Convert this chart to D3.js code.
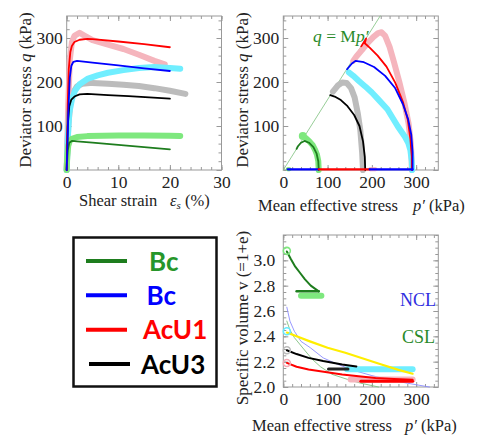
<!DOCTYPE html>
<html>
<head>
<meta charset="utf-8">
<script src="https://cdn.jsdelivr.net/npm/d3@7"></script>
<style>
  html, body { margin: 0; padding: 0; background: #fff; }
  svg { display: block; }
</style>
</head>
<body>
<svg id="chart" width="477" height="437"></svg>
<script>
// ---- tick values ----
const strainTicks = [0, 10, 20, 30];
const stressTicks = [0, 100, 200, 300];
const qTicks = [100, 200, 300];
const volumeTicks = [2.0, 2.2, 2.4, 2.6, 2.8, 3.0];

// ---- deviator stress q (kPa) vs shear strain εs (%) ----
const bcGreenExpStrain = [[0,0],[0.1,30],[0.3,55],[0.6,66],[1,71],[2,75],[4,77],[7,78],[10,78.5],[15,78.5],[20,78],[22,77.5]];
const bcGreenModelStrain = [[0,0],[0.2,45],[0.5,62],[1,66],[2,65],[5,62],[10,57],[15,52],[20,47]];
const bcBlueExpStrain = [[0,0],[0.2,70],[0.5,130],[1,160],[1.6,180],[2.5,195],[4,207],[6,215],[8,221],[11,227],[14,232],[17,234],[20,232],[22,230]];
const bcBlueModelStrain = [[0,0],[0.3,130],[0.6,210],[0.9,237],[1.3,246],[2,248],[5,244],[10,238],[15,231],[20,225]];
const acu1ExpStrain = [[0,0],[0.3,150],[0.6,250],[1,290],[1.5,305],[2.5,312],[3.5,305],[5,295],[8,285],[11,275],[14,262],[17,248],[19,240]];
const acu1ModelStrain = [[0,0],[0.2,150],[0.4,230],[0.7,268],[1,282],[1.5,291],[2.5,296],[4,298],[5,297.5],[10,292],[15,286],[20,279]];
const acu3ExpStrain = [[0,0],[0.3,100],[0.7,150],[1.2,175],[2,190],[3,196],[5,198],[8,196],[11,194],[14,191],[17,186],[20,180],[23,173]];
const acu3ModelStrain = [[0,0],[0.2,100],[0.5,145],[0.9,160],[1.5,167],[2.5,172],[4,173],[8,170],[12,168],[16,165],[20,162]];

// ---- stress paths: q (kPa) vs p' (kPa) ----
const cslM = 1.6;
const cslPath = [[0,0],[350 / cslM,350]];
const bcGreenExpPath = [[80,0],[79,20],[76,35],[72,45],[66,57],[58,66],[50,73],[44,77]];
const bcGreenModelPath = [[80,0],[79,20],[75,38],[68,52],[58,62],[48,66],[40,62],[33,54],[30,48]];
const bcBlueExpPath = [[291,0],[290,20],[287,45],[282,62],[275,75],[258,100],[235,138],[215,160],[200,176],[185,190],[170,203],[158,214],[148,222]];
const bcBlueModelPath = [[292,0],[292,40],[289,80],[282,115],[270,150],[252,187],[230,214],[205,234],[182,245],[163,248],[155,242],[144,229]];
const acu1ExpPath = [[290,0],[290,20],[288,60],[283,105],[274,150],[262,200],[250,245],[240,280],[230,305],[222,313],[214,311],[203,302],[190,288],[177,272],[165,258],[158,248]];
const acu1ModelPath = [[290,0],[290,30],[287,70],[281,115],[270,155],[253,198],[233,235],[213,260],[195,278],[184,288],[187,299],[176,281]];
const acu3ExpPath = [[180,0],[178,40],[174,90],[168,130],[161,165],[153,186],[143,198],[133,199],[123,192],[112,178]];
const acu3ModelPath = [[185,0],[184,30],[180,65],[172,100],[160,125],[145,145],[130,159],[116,167],[106,170]];
const isoSegments = [
  { p: [10, 80], color: "#0000ff" },
  { p: [80, 195], color: "#ff0000" },
  { p: [195, 292], color: "#0000ff" }
];
const isoExpSegments = [
  { p: [196, 208], color: "#f4a8b4" },
  { p: [10, 14], color: "#6fdc6f" }
];

// ---- specific volume v vs p' (kPa) ----
const nclLine = [[8,2.63],[15,2.52],[25,2.44],[40,2.36],[61,2.31],[90,2.23],[122,2.18],[160,2.13],[200,2.09],[236,2.06],[280,2.03],[330,2.0]];
const cslLine = [[8,2.52],[15,2.45],[25,2.39],[46,2.30],[65,2.22],[84,2.16],[110,2.10],[145,2.06],[175,2.03],[215,2.0]];
const bcGreenModelVol = [[8,3.07],[17,3.01],[27,2.95],[38,2.90],[49,2.85],[62,2.80],[80,2.755]];
const bcGreenModelVolShear = [[30,2.755],[80,2.755]];
const bcGreenExpVol = [[40,2.72],[86,2.72]];
const yellowVol = [[8,2.43],[30,2.40],[60,2.36],[100,2.31],[140,2.27],[180,2.225],[220,2.18],[260,2.135],[292,2.105]];
const bcBlueExpVol = [[144,2.14],[292,2.14]];
const acu3ModelVol = [[8,2.29],[30,2.26],[57,2.23],[90,2.205],[133,2.177],[165,2.162]];
const acu3ExpVol = [[102,2.142],[146,2.142]];
const acu1ModelVol = [[8,2.19],[30,2.16],[57,2.138],[95,2.118],[133,2.098],[170,2.085],[208,2.072],[250,2.064],[292,2.058]];
const acu1ExpVol = [[152,2.06],[292,2.06]];
const acu1ModelVolShear = [[175,2.045],[292,2.045]];
const startPoints = [
  { p: 8, v: 3.075, color: "#7ee87e" },
  { p: 8, v: 2.44, color: "#66eaff" },
  { p: 8, v: 2.29, color: "#bbbbbb" },
  { p: 8, v: 2.19, color: "#f4a8b4" }
];

// ---- legend ----
const legendLabels = ["Bc", "Bc", "AcU1", "AcU3"];
const legendColors = ["#1e7d1e", "#0000ff", "#ff0000", "#000000"];
const legendTextColors = ["#26962a", "#0000ff", "#ff0000", "#000000"];

const SERIF = "'Liberation Serif', 'Tinos', 'DejaVu Serif', 'Noto Serif', 'Times New Roman', Times, serif";

const svg = d3.select("#chart");

// scales
const xStrain = d3.scaleLinear().domain([0, 30]).range([66.7, 221.5]);
const yQ = d3.scaleLinear().domain([0, 350]).range([170, 16]);
const xP = d3.scaleLinear().domain([0, 350]).range([283.3, 438.3]);
const yV = d3.scaleLinear().domain([2.0, 3.2]).range([387, 235]);

function styleAxis(s) {
  s.select(".domain").remove();
  s.attr("font-family", null).attr("font-size", null);
  s.selectAll(".tick line").attr("stroke", "#999");
  s.selectAll(".tick text").style("font-family", SERIF).style("font-size", "17.5px").style("fill", "#222");
}

// framed plot with inward ticks on all four sides
function frame(x, y, xMajor, xMinorStep, yMajor, yMinorStep, yLabels, yFmt, yPad) {
  const [x0, x1] = x.range();
  const [y0, y1] = y.range();
  const g = svg.append("g");
  const xd = x.domain(), yd = y.domain();
  const xMinor = d3.range(xd[0], xd[1] + 1e-9, xMinorStep);
  const yMinor = d3.range(yd[0], yd[1] + 1e-9, yMinorStep);

  [[d3.axisBottom(x), y0, true], [d3.axisTop(x), y1, false]].forEach(([ax, pos, lab]) => {
    g.append("g").attr("transform", `translate(0,${pos})`)
      .call(ax.tickValues(xMinor).tickSize(-3).tickFormat("")).call(styleAxis);
    g.append("g").attr("transform", `translate(0,${pos})`)
      .call(ax.tickValues(xMajor).tickSize(-5).tickPadding(6).tickFormat(lab ? d3.format("d") : ""))
      .call(styleAxis);
  });
  [[d3.axisLeft(y), x0, true], [d3.axisRight(y), x1, false]].forEach(([ax, pos, lab]) => {
    g.append("g").attr("transform", `translate(${pos},0)`)
      .call(ax.tickValues(yMinor).tickSize(-3).tickFormat("")).call(styleAxis);
    g.append("g").attr("transform", `translate(${pos},0)`)
      .call(ax.tickValues(lab ? yLabels : yMajor).tickSize(-5).tickPadding(yPad).tickFormat(lab ? yFmt : ""))
      .call(styleAxis);
  });
  g.append("rect").attr("x", x0).attr("y", y1).attr("width", x1 - x0).attr("height", y0 - y1)
    .attr("fill", "none").attr("stroke", "#999").attr("stroke-width", 1);
  return g;
}

function draw(g, x, y, data, color, width) {
  const line = d3.line().x(d => x(d[0])).y(d => y(d[1]));
  return g.append("path").attr("d", line(data)).attr("fill", "none")
    .attr("stroke", color).attr("stroke-width", width)
    .attr("stroke-linecap", "round").attr("stroke-linejoin", "round");
}

function serifText(g, x, y, size, color) {
  return g.append("text").attr("x", x).attr("y", y)
    .style("font-family", SERIF).style("font-size", size + "px").style("fill", color);
}

// ===== panel 1: q vs εs =====
frame(xStrain, yQ, strainTicks, 2, [0, 100, 200, 300], 20, qTicks, d3.format("d"), 4);
const p1 = svg.append("g");
const thick = 6;
draw(p1, xStrain, yQ, acu3ExpStrain, "#bcbcbc", thick);
draw(p1, xStrain, yQ, acu1ExpStrain, "#f5b5bd", thick);
draw(p1, xStrain, yQ, bcBlueExpStrain, "#70eeff", thick);
draw(p1, xStrain, yQ, bcGreenExpStrain, "#7ee87e", thick);
draw(p1, xStrain, yQ, acu3ModelStrain, "#000000", 1.8);
draw(p1, xStrain, yQ, bcGreenModelStrain, "#1e7d1e", 1.8);
draw(p1, xStrain, yQ, acu1ModelStrain, "#ff0000", 1.8);
draw(p1, xStrain, yQ, bcBlueModelStrain, "#0000ff", 1.8);

// ===== panel 2: q vs p' =====
frame(xP, yQ, stressTicks, 20, [0, 100, 200, 300], 20, qTicks, d3.format("d"), 4);
const p2 = svg.append("g");
draw(p2, xP, yQ, cslPath, "#7cc07c", 0.8);
draw(p2, xP, yQ, acu1ExpPath, "#f5b5bd", thick);
draw(p2, xP, yQ, bcBlueExpPath, "#70eeff", thick);
draw(p2, xP, yQ, acu3ExpPath, "#bcbcbc", thick);
draw(p2, xP, yQ, bcGreenExpPath, "#7ee87e", thick);
p2.append("circle").attr("cx", xP(44)).attr("cy", yQ(77)).attr("r", 4).attr("fill", "#7ee87e");
draw(p2, xP, yQ, acu1ModelPath, "#ff0000", 1.8);
draw(p2, xP, yQ, bcBlueModelPath, "#0000ff", 1.8);
draw(p2, xP, yQ, acu3ModelPath, "#000000", 1.8);
draw(p2, xP, yQ, bcGreenModelPath, "#1e7d1e", 1.8);
isoExpSegments.forEach(s => draw(p2, xP, yQ, [[s.p[0], 1.5], [s.p[1], 1.5]], s.color, 4));
isoSegments.forEach(s => draw(p2, xP, yQ, [[s.p[0], 1.5], [s.p[1], 1.5]], s.color, 2.2));
const eq = serifText(p2, 313, 42, 17.5, "#2a8a2a");
eq.append("tspan").style("font-style", "italic").text("q");
eq.append("tspan").text(" = M");
eq.append("tspan").style("font-style", "italic").text("p′");

// ===== panel 3: v vs p' =====
frame(xP, yV, stressTicks, 20, volumeTicks, 0.05, volumeTicks, d3.format(".1f"), 8);
const p3 = svg.append("g");
draw(p3, xP, yV, nclLine, "#8c8cff", 0.9);
draw(p3, xP, yV, cslLine, "#80c080", 0.9);
draw(p3, xP, yV, bcGreenExpVol, "#7ee87e", thick);
draw(p3, xP, yV, bcBlueExpVol, "#70eeff", thick);
draw(p3, xP, yV, acu1ExpVol, "#f5b5bd", thick);
draw(p3, xP, yV, acu3ExpVol, "#222222", 3);
draw(p3, xP, yV, yellowVol, "#ffee00", 2.2);
draw(p3, xP, yV, acu3ModelVol, "#000000", 2);
draw(p3, xP, yV, acu1ModelVol, "#ff0000", 2);
draw(p3, xP, yV, acu1ModelVolShear, "#ff0000", 3);
draw(p3, xP, yV, bcGreenModelVol, "#1e7d1e", 2);
draw(p3, xP, yV, bcGreenModelVolShear, "#1e7d1e", 2.5);
p3.selectAll("circle.start").data(startPoints).join("circle").attr("class", "start")
  .attr("cx", d => xP(d.p)).attr("cy", d => yV(d.v)).attr("r", 3.5)
  .attr("fill", "none").attr("stroke", d => d.color).attr("stroke-width", 1.6);
serifText(p3, 400, 306, 18, "#3030e0").text("NCL");
serifText(p3, 402, 343, 18, "#2a8a2a").text("CSL");

// ===== axis titles =====
function yTitle(x, y, parts) {
  const t = svg.append("text").attr("text-anchor", "middle")
    .style("font-family", SERIF).style("font-size", "17px").style("fill", "#222")
    .attr("transform", `translate(${x},${y}) rotate(-90)`);
  parts.forEach(p => t.append("tspan").style("font-style", p.i ? "italic" : "normal").text(p.t));
}
yTitle(31, 90, [{t: "Deviator stress    "}, {t: "q", i: true}, {t: " (kPa)"}]);
yTitle(248, 90, [{t: "Deviator stress    "}, {t: "q", i: true}, {t: " (kPa)"}]);
yTitle(248, 318, [{t: "Specific volume  v (=1+e)"}]);

function xTitle(y, startX, label, symX, symbol, sub, unit) {
  const t = serifText(svg, startX, y, 16.5, "#222");
  t.append("tspan").text(label);
  t.append("tspan").attr("x", symX).style("font-style", "italic").text(symbol);
  if (sub) t.append("tspan").style("font-style", "italic").style("font-size", "11px").attr("dy", 3).text(sub);
  t.append("tspan").attr("dy", sub ? -3 : 0).text(unit);
}
xTitle(206, 79, "Shear strain", 170, "ε", "s", " (%)");
xTitle(211, 258, "Mean effective stress", 413, "p′", null, " (kPa)");
xTitle(431, 252, "Mean effective stress", 405, "p′", null, " (kPa)");

// ===== legend =====
const lg = svg.append("g");
lg.append("rect").attr("x", 73.5).attr("y", 237.5).attr("width", 143).attr("height", 149)
  .attr("fill", "#fff").attr("stroke", "#111").attr("stroke-width", 2.5);
const rowY = d3.scaleLinear().domain([0, 3]).range([261, 364]);
legendLabels.forEach((lab, i) => {
  const lx0 = i === 3 ? 89 : 86;
  lg.append("line").attr("x1", lx0).attr("x2", lx0 + 41).attr("y1", rowY(i)).attr("y2", rowY(i))
    .attr("stroke", legendColors[i]).attr("stroke-width", 4);
  const tx = [149, 146.5, 143, 141][i];
  lg.append("text").attr("x", tx).attr("y", rowY(i) + 9.5)
    .style("font-family", "Lato, 'Open Sans', sans-serif").style("font-weight", "bold")
    .style("font-size", "26px").style("fill", legendTextColors[i]).text(lab);
});
</script>
</body>
</html>
